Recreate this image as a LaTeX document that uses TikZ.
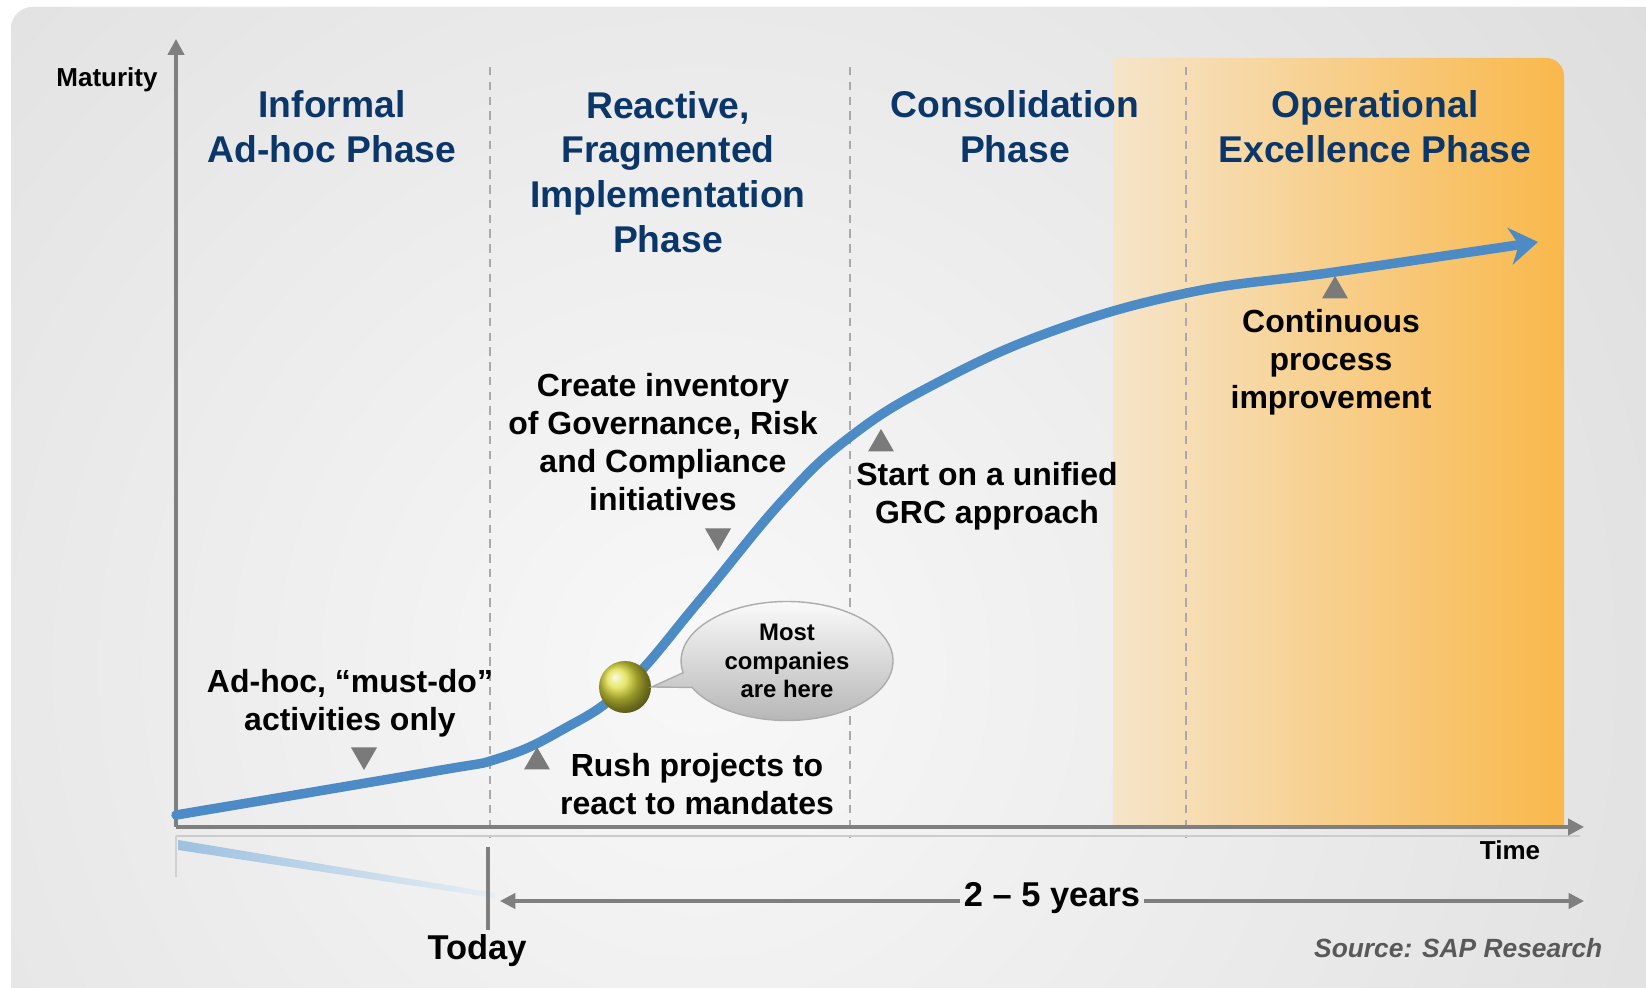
\documentclass[tikz,border=0pt]{standalone}
\usepackage{fontspec}
\setmainfont{Liberation Sans}
\usepackage{xcolor}
\usepackage{tikz}
\usetikzlibrary{shapes.geometric, shapes.callouts, arrows.meta, positioning, calc}
\definecolor{phaseblue}{HTML}{0A3669}
\definecolor{bggrey}{HTML}{DCDCDC}
\definecolor{bglight}{HTML}{F8F8F8}
\definecolor{axisgrey}{HTML}{7F7F7F}
\definecolor{dashgrey}{HTML}{A9A9A9}
\definecolor{reflgrey}{HTML}{CCCCCC}
\definecolor{curveblue}{HTML}{4C8BC5}
\definecolor{reflblue}{HTML}{9DC1E0}
\definecolor{reflpale}{HTML}{E6EEF4}
\definecolor{excellpale}{HTML}{F6E5CA}
\definecolor{excelldeep}{HTML}{F9B84B}
\definecolor{markgrey}{HTML}{7A7A7A}
\definecolor{ballyellow}{HTML}{DEDE3C}
\definecolor{bubblegrey}{HTML}{B2B2B2}
\definecolor{sourcegrey}{HTML}{595959}
\tikzstyle{phasetitle} = [align=center, inner sep=0pt, text=phaseblue, font=\fontsize{10.6}{12.7}\selectfont\bfseries]
\tikzstyle{note} = [align=center, inner sep=0pt, text=black, font=\fontsize{9.1}{10.8}\selectfont\bfseries]
\tikzstyle{axislabel} = [inner sep=0pt, anchor=base, font=\fontsize{7.4}{9}\selectfont\bfseries]
\tikzstyle{biglabel} = [inner sep=1pt, anchor=base, font=\fontsize{9.8}{12}\selectfont\bfseries]
\tikzstyle{markup} = [regular polygon, regular polygon sides=3, fill=markgrey, inner sep=0pt, minimum size=0.30cm]
\tikzstyle{markdown} = [markup, rotate=180]
\tikzstyle{axis} = [draw=axisgrey, line width=0.9pt, -{Triangle[length=4.5pt,width=4.6pt]}]
\tikzstyle{span} = [draw=axisgrey, line width=0.9pt, -{Triangle[length=4.4pt,width=4.4pt]}]
\tikzstyle{phaseline} = [draw=dashgrey, line width=0.6pt, dash pattern=on 2.4pt off 1.8pt]
\tikzstyle{maturity} = [draw=curveblue, line width=2.7pt, line cap=round, -{Stealth[length=8pt,width=10.5pt,inset=2.5pt]}]

\begin{document}
\begin{tikzpicture}
  \useasboundingbox (0,0) rectangle (16.46,9.88);
  \clip (0,0) rectangle (16.46,9.88);

  \begin{scope}
    \clip[rounded corners=0.22cm] (0.11,-0.5) rectangle (17,9.81);
    \fill[bggrey] (0,0) rectangle (16.46,9.88);
    \shade[inner color=bglight, outer color=bggrey] (7.0,3.2) circle (12.5cm);
  \end{scope}

  \shade[left color=excellpale, right color=excelldeep] (11.13,1.61) -- (11.13,9.30) -- (15.46,9.30)
    arc[start angle=90, end angle=0, radius=0.18] -- (15.64,1.61) -- cycle;

  \draw[phaseline] (4.90,9.21) -- (4.90,1.50);
  \draw[phaseline] (8.50,9.21) -- (8.50,1.50);
  \draw[phaseline] (11.86,9.21) -- (11.86,1.50);

  \coordinate (origin) at (1.76,1.61);
  \coordinate (ytip) at (1.76,9.49);
  \coordinate (xtip) at (15.84,1.61);
  \draw[reflgrey, line width=0.8pt] (1.76,1.52) -- (15.80,1.52);
  \draw[reflgrey!70!bggrey, line width=0.6pt] (1.76,1.52) -- (1.76,1.11);
  \shade[left color=reflblue, right color=reflpale] (1.78,1.48) -- (1.78,1.38) -- (4.95,0.90) -- (4.95,0.95) -- cycle;
  \draw[axis] (origin) -- (ytip);
  \draw[axis] (origin) -- (xtip);

  \node (maturitylbl) [axislabel] at (1.07,9.01) {Maturity};
  \node (timelbl) [axislabel] at (15.10,1.28) {Time};

  \node (informal) [phasetitle] at (3.32,8.61) {Informal\\Ad-hoc Phase};
  \node (reactive) [phasetitle] at (6.68,8.16) {Reactive,\\Fragmented\\Implementation\\Phase};
  \node (consol) [phasetitle] at (10.15,8.61) {Consolidation\\Phase};
  \node (operational) [phasetitle] at (13.75,8.61) {Operational\\Excellence Phase};

  \draw[maturity] plot[smooth, tension=0.7] coordinates {(1.76,1.73) (4.30,2.16) (5.00,2.30)
    (5.60,2.57) (6.25,3.01) (7.00,3.88) (7.83,4.88) (8.50,5.51) (9.33,6.03)
    (10.50,6.56) (11.87,6.95) (13.35,7.16) (15.38,7.46)};

  \node (adhoc) [note] at (3.50,2.85) {Ad-hoc, “must-do”\\activities only};
  \node (rush) [note] at (6.97,2.04) {Rush projects to\\react to mandates};
  \node (inventory) [note] at (6.63,5.46) {Create inventory\\of Governance, Risk\\and Compliance\\initiatives};
  \node (unified) [note] at (9.87,4.92) {Start on a unified\\GRC approach};
  \node (improve) [note] at (13.31,6.26) {Continuous\\process\\improvement};

  \node (m1) [markdown] at (3.64,2.33) {};
  \node (m2) [markup] at (5.37,2.26) {};
  \node (m3) [markdown] at (7.18,4.52) {};
  \node (m4) [markup] at (8.81,5.44) {};
  \node (m5) [markup] at (13.35,6.97) {};

  \node (ball) [circle, ball color=ballyellow, minimum size=0.52cm, inner sep=0pt] at (6.25,3.01) {};
  \node (bubble) [ellipse callout, callout absolute pointer={(ball.east)}, minimum width=2.12cm,
    minimum height=1.19cm, inner sep=0pt, draw=gray!65, line width=0.4pt, top color=gray!4,
    bottom color=bubblegrey, align=center, font=\fontsize{6.8}{8.1}\selectfont\bfseries]
    at (7.87,3.27) {Most\\companies\\are here};

  \coordinate (ticktop) at (4.88,1.41);
  \coordinate (tickbot) at (4.88,0.58);
  \draw[axisgrey, line width=0.9pt] (ticktop) -- (tickbot);
  \node (today) [biglabel] at (4.77,0.28) {Today};

  \node (years) [biglabel] at (10.52,0.81) {2 – 5 years};
  \coordinate (spanL) at (5.00,0.87);
  \coordinate (spanR) at (15.84,0.87);
  \draw[span] (years.west |- spanL) -- (spanL);
  \draw[span] (years.east |- spanR) -- (spanR);

  \node (source) [anchor=base east, inner sep=0pt, text=sourcegrey,
    font=\fontsize{7.5}{9}\selectfont\bfseries\itshape] at (16.03,0.30) {Source: SAP Research};
\end{tikzpicture}
\end{document}
